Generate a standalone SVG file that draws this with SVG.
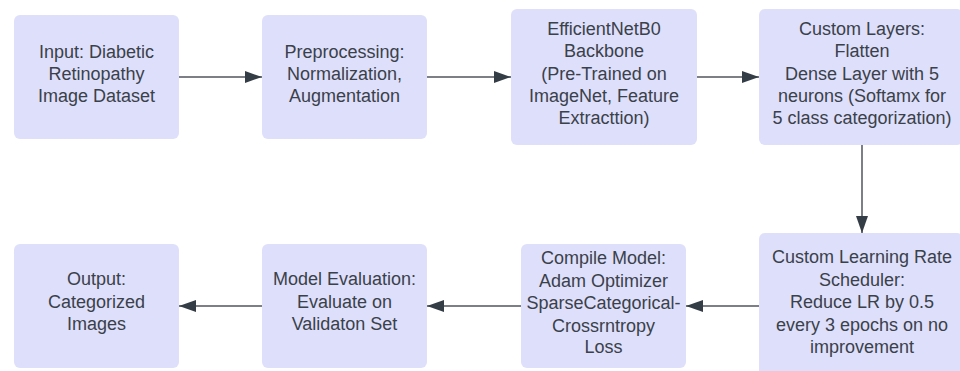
<svg xmlns="http://www.w3.org/2000/svg" width="960" height="371" viewBox="0 0 960 371">
  <style>
    .box { fill: #dedffa; stroke: none; }
    .lbl { font-family: "Liberation Sans", Arial, sans-serif; font-size: 18px; fill: #3a414a; text-anchor: middle; }
    .conn { stroke: #50565e; stroke-width: 1.5; fill: none; marker-end: url(#arrow); }
  </style>
  <defs>
    <marker id="arrow" markerUnits="userSpaceOnUse" markerWidth="17" markerHeight="13" refX="17" refY="6.5" orient="auto">
      <path d="M0,0.5 L17,6.5 L0,12.5 z" fill="#343c45"/>
    </marker>
  </defs>
  <rect width="960" height="371" fill="#ffffff"/>

  <g id="connectors">
    <line class="conn" x1="179" y1="77" x2="262" y2="77"/>
    <line class="conn" x1="427" y1="77" x2="511" y2="77"/>
    <line class="conn" x1="697" y1="77" x2="759" y2="77"/>
    <line class="conn" x1="862" y1="145" x2="862" y2="233"/>
    <line class="conn" x1="759" y1="306" x2="686" y2="306"/>
    <line class="conn" x1="521" y1="306" x2="427" y2="306"/>
    <line class="conn" x1="262" y1="306" x2="179" y2="306"/>
  </g>

  <g id="node-input">
    <rect class="box" x="14" y="15" width="165" height="124" rx="6"/>
    <text class="lbl" x="96.5" y="58">Input: Diabetic</text>
    <text class="lbl" x="96.5" y="80">Retinopathy</text>
    <text class="lbl" x="96.5" y="102">Image Dataset</text>
  </g>

  <g id="node-preprocessing">
    <rect class="box" x="262" y="15" width="165" height="124" rx="6"/>
    <text class="lbl" x="344.5" y="58">Preprocessing:</text>
    <text class="lbl" x="344.5" y="80">Normalization,</text>
    <text class="lbl" x="344.5" y="102">Augmentation</text>
  </g>

  <g id="node-backbone">
    <rect class="box" x="511" y="9" width="186" height="136" rx="6"/>
    <text class="lbl" x="604" y="35">EfficientNetB0</text>
    <text class="lbl" x="604" y="57">Backbone</text>
    <text class="lbl" x="604" y="79.5">(Pre-Trained on</text>
    <text class="lbl" x="604" y="101.5">ImageNet, Feature</text>
    <text class="lbl" x="604" y="123.5">Extracttion)</text>
  </g>

  <g id="node-custom-layers">
    <rect class="box" x="759" y="9" width="204" height="136" rx="6"/>
    <text class="lbl" x="862" y="35">Custom Layers:</text>
    <text class="lbl" x="862" y="57">Flatten</text>
    <text class="lbl" x="862" y="79.5">Dense Layer with 5</text>
    <text class="lbl" x="862" y="101.5">neurons (Softamx for</text>
    <text class="lbl" x="862" y="123.5">5 class categorization)</text>
  </g>

  <g id="node-lr-scheduler">
    <rect class="box" x="759" y="233" width="204" height="146" rx="6"/>
    <text class="lbl" x="862" y="263">Custom Learning Rate</text>
    <text class="lbl" x="862" y="285.5">Scheduler:</text>
    <text class="lbl" x="862" y="308">Reduce LR by 0.5</text>
    <text class="lbl" x="862" y="330.5">every 3 epochs on no</text>
    <text class="lbl" x="862" y="353">improvement</text>
  </g>

  <g id="node-compile">
    <rect class="box" x="521" y="244" width="165" height="124" rx="6"/>
    <text class="lbl" x="603.5" y="264">Compile Model:</text>
    <text class="lbl" x="603.5" y="286.5">Adam Optimizer</text>
    <text class="lbl" x="603.5" y="309">SparseCategorical-</text>
    <text class="lbl" x="603.5" y="331.5">Crossrntropy</text>
    <text class="lbl" x="603.5" y="353">Loss</text>
  </g>

  <g id="node-evaluation">
    <rect class="box" x="262" y="244" width="165" height="124" rx="6"/>
    <text class="lbl" x="344.5" y="285">Model Evaluation:</text>
    <text class="lbl" x="344.5" y="307.5">Evaluate on</text>
    <text class="lbl" x="344.5" y="330">Validaton Set</text>
  </g>

  <g id="node-output">
    <rect class="box" x="14" y="244" width="165" height="124" rx="6"/>
    <text class="lbl" x="96.5" y="285">Output:</text>
    <text class="lbl" x="96.5" y="307.5">Categorized</text>
    <text class="lbl" x="96.5" y="330">Images</text>
  </g>
</svg>
